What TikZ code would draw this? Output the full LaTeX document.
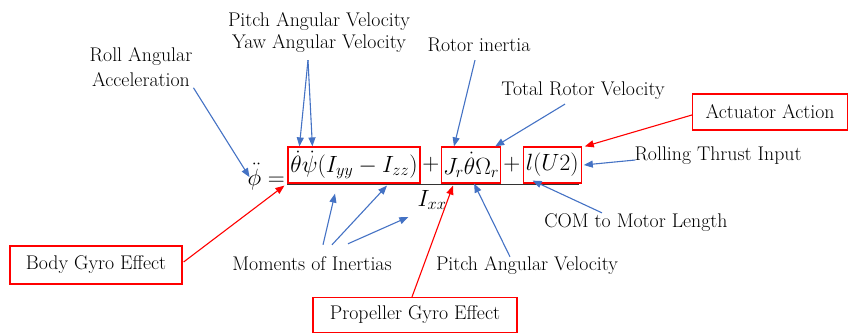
\RequirePackage{fix-cm}
\documentclass[tikz,border=0pt]{standalone}
\usepackage{amsmath}
\usepackage{fontspec}
\usepackage{xcolor}
\usepackage{tikz}
\usetikzlibrary{arrows.meta, positioning}

\definecolor{notblue}{RGB}{68,114,196}
\definecolor{notred}{RGB}{255,0,0}

\begin{document}
\begin{tikzpicture}[
    x = 1pt, y = -1pt,
    lbl/.style     = {inner sep=1pt, align=center,
                      text=black,
                      font=\fontsize{19.8}{22}\selectfont},
    redbox/.style  = {rectangle, draw=notred,
                      line width=1.2pt, inner sep=0pt,
                      minimum height=36pt},
    termbox/.style = {redbox,
                      font=\fontsize{23.5}{28}\selectfont},
    tagbox/.style  = {lbl, redbox},
    mathtxt/.style = {inner sep=0pt,
                      font=\fontsize{23.5}{28}\selectfont},
    blarrow/.style = {-{Triangle[length=9pt,width=7pt]},
                      line width=1.1pt, notblue},
    rdarrow/.style = {-{Triangle[length=9pt,width=7pt]},
                      line width=1.1pt, notred}
]
\useasboundingbox (0,0) rectangle (849,333);

%% Equation
\node[mathtxt, anchor=base east] (phi) at (285,185)
    {$\ddot{\phi} =$};
\node[termbox, minimum width=132pt] (b1) at (354,165)
    {$\dot{\theta}\dot{\psi}(I_{yy}-I_{zz})$};
\node[mathtxt, minimum width=20pt, right=0pt of b1] (plus1)
    {$+$};
\node[termbox, minimum width=59pt, right=0pt of plus1] (b2)
    {$J_r\dot{\theta}\Omega_r$};
\node[mathtxt, minimum width=21pt, right=0pt of b2] (plus2)
    {$+$};
\node[termbox, minimum width=58pt, right=0pt of plus2] (b3)
    {$l(U2)$};
\node[mathtxt] (ixx) at (432,200) {$I_{xx}$};
\draw[line width=1.3pt, black!80]
    ([yshift=-1pt]b1.south west) -- ([shift={(-3,1)}]b3.south east);

%% Labels
\node[lbl, font=\fontsize{19.8}{25}\selectfont] (roll)
    at (141,67) {Roll Angular\\Acceleration};
\node[lbl] (pitchyaw) at (319,33)
    {Pitch Angular Velocity\\Yaw Angular Velocity};
\node[lbl] (rotor) at (479,45) {Rotor inertia};
\node[lbl] (total) at (583,91) {Total Rotor Velocity};
\node[tagbox, minimum width=155pt] (act) at (770,112)
    {Actuator Action};
\node[lbl] (rolling) at (718,156) {Rolling Thrust Input};
\node[lbl] (com) at (636,223) {COM to Motor Length};
\node[lbl] (pitch) at (527,266) {Pitch Angular Velocity};
\node[lbl] (moments) at (312,264) {Moments of Inertias};
\node[tagbox, minimum width=172pt, minimum height=38pt] (body)
    at (96,265) {Body Gyro Effect};
\node[tagbox, minimum width=204pt, minimum height=35pt] (prop)
    at (415,315) {Propeller Gyro Effect};

%% Arrows
\draw[blarrow] (roll.south east) -- ([shift={(2,14)}]phi.north west);
\draw[blarrow] ([shift={(-11,6)}]pitchyaw.south)
    -- ([xshift=12pt]b1.north west);
\draw[blarrow] ([shift={(-11,6)}]pitchyaw.south)
    -- ([xshift=25pt]b1.north west);
\draw[blarrow] ([shift={(-4,7)}]rotor.south)
    -- ([xshift=13pt]b2.north west);
\draw[blarrow] ([shift={(-18,3)}]total.south)
    -- ([xshift=-6pt]b2.north east);
\draw[rdarrow] ([shift={(0,3)}]act.west)
    -- ([xshift=3pt]b3.north east);
\draw[blarrow] ([shift={(2,4)}]rolling.west)
    -- ([xshift=2pt]b3.east);
\draw[blarrow] ([xshift=-34pt]com.north)
    -- ([shift={(10,-3)}]b3.south west);
\draw[blarrow] ([shift={(-17,1)}]pitch.north)
    -- ([xshift=3pt]b2.south);
\draw[rdarrow] ([xshift=-3pt]prop.north)
    -- ([shift={(12,2)}]b2.south west);
\draw[rdarrow] ([shift={(1,-3)}]body.east)
    -- ([shift={(-3,2)}]b1.south west);
\draw[blarrow] ([shift={(11,-11)}]moments.north)
    -- ([shift={(-19,10)}]b1.south);
\draw[blarrow] ([shift={(20,-11)}]moments.north)
    -- ([shift={(33,2)}]b1.south);
\draw[blarrow] ([shift={(36,-12)}]moments.north)
    -- ([shift={(-9,7)}]ixx.south west);
\end{tikzpicture}
\end{document}
